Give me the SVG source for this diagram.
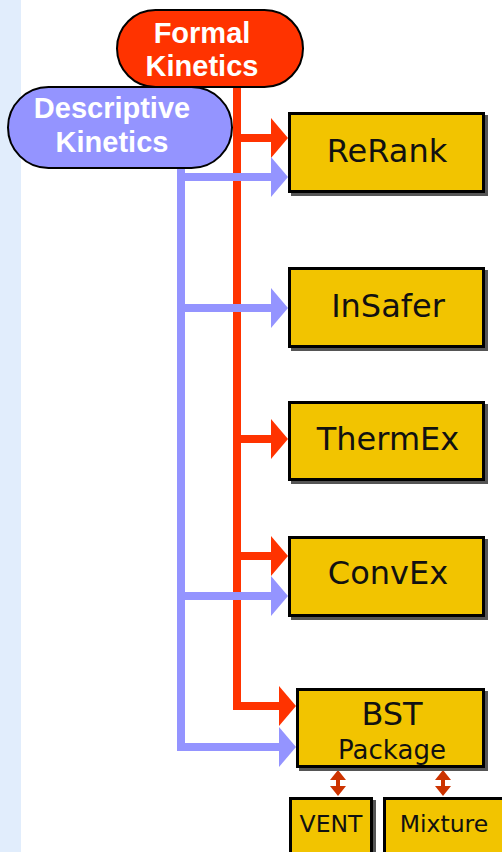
<svg xmlns="http://www.w3.org/2000/svg" width="502" height="852" viewBox="0 0 502 852">
  <style>
    .pill-label { font-family: "Liberation Sans", Arial, sans-serif; font-weight: bold; font-size: 29px; fill: #ffffff; text-anchor: middle; }
    .box { fill: #F2C400; stroke: #000000; stroke-width: 3; }
    .shadow { fill: #555555; }
    .box-label { font-family: "DejaVu Sans", Verdana, sans-serif; font-size: 32px; fill: #111111; text-anchor: middle; }
    .small-label { font-family: "DejaVu Sans", Verdana, sans-serif; font-size: 23.5px; fill: #111111; text-anchor: middle; }
    .red { fill: none; stroke: #FF3300; stroke-width: 8; }
    .blue { fill: none; stroke: #9494FF; stroke-width: 8; }
  </style>
  <defs>
    <marker id="headRed" viewBox="0 0 17 40" refX="0" refY="20" markerWidth="17" markerHeight="40" markerUnits="userSpaceOnUse" orient="auto">
      <path d="M0 0 L17 20 L0 40 Z" fill="#FF3300"/>
    </marker>
    <marker id="headBlue" viewBox="0 0 17 40" refX="0" refY="20" markerWidth="17" markerHeight="40" markerUnits="userSpaceOnUse" orient="auto">
      <path d="M0 0 L17 20 L0 40 Z" fill="#9494FF"/>
    </marker>
    <!-- two-headed link between BST Package and its sub-modules -->
    <path id="dbl" d="M0 -13 L8 -3 L2 -3 L2 3 L8 3 L0 13 L-8 3 L-2 3 L-2 -3 L-8 -3 Z" fill="#CC3300"/>
  </defs>

  <!-- side band -->
  <rect x="0" y="0" width="21" height="852" fill="#E1EDFC"/>

  <g id="connectors">
    <path class="red" d="M237 87 V706 H279" marker-end="url(#headRed)"/>
    <path class="red" d="M237 138 H271" marker-end="url(#headRed)"/>
    <path class="red" d="M237 439 H271" marker-end="url(#headRed)"/>
    <path class="red" d="M237 556 H271" marker-end="url(#headRed)"/>
    <path class="blue" d="M181 168 V747 H279" marker-end="url(#headBlue)"/>
    <path class="blue" d="M181 177 H271" marker-end="url(#headBlue)"/>
    <path class="blue" d="M181 308 H271" marker-end="url(#headBlue)"/>
    <path class="blue" d="M181 596 H271" marker-end="url(#headBlue)"/>
    <use href="#dbl" x="338" y="783"/>
    <use href="#dbl" x="443" y="783"/>
  </g>

  <g id="formal-kinetics">
    <rect x="117" y="10" width="186" height="77" rx="38.5" fill="#FF3300" stroke="#000" stroke-width="2"/>
    <text class="pill-label" x="202" y="43">Formal</text>
    <text class="pill-label" x="202" y="76">Kinetics</text>
  </g>

  <g id="descriptive-kinetics">
    <rect x="8" y="87" width="224" height="81" rx="40.5" fill="#9494FF" stroke="#000" stroke-width="2"/>
    <text class="pill-label" x="112" y="118">Descriptive</text>
    <text class="pill-label" x="112" y="152">Kinetics</text>
  </g>

  <g id="rerank">
    <rect class="shadow" x="291" y="115" width="197" height="81"/>
    <rect class="box" x="289.5" y="113.5" width="194" height="78"/>
    <text class="box-label" x="387" y="162">ReRank</text>
  </g>

  <g id="insafer">
    <rect class="shadow" x="291" y="270" width="197" height="81"/>
    <rect class="box" x="289.5" y="268.5" width="194" height="78"/>
    <text class="box-label" x="388" y="317">InSafer</text>
  </g>

  <g id="thermex">
    <rect class="shadow" x="291" y="404" width="197" height="80"/>
    <rect class="box" x="289.5" y="402.5" width="194" height="77"/>
    <text class="box-label" x="388" y="450">ThermEx</text>
  </g>

  <g id="convex">
    <rect class="shadow" x="291" y="539" width="197" height="81"/>
    <rect class="box" x="289.5" y="537.5" width="194" height="78"/>
    <text class="box-label" x="388" y="584">ConvEx</text>
  </g>

  <g id="bst-package">
    <rect class="shadow" x="299" y="691" width="189" height="80"/>
    <rect class="box" x="297.5" y="689.5" width="186" height="77"/>
    <text class="box-label" x="392" y="725">BST</text>
    <text class="box-label" x="392" y="759" style="font-size:26px">Package</text>
  </g>

  <g id="vent">
    <rect class="shadow" x="292" y="800" width="84" height="60"/>
    <rect class="box" x="290.5" y="798.5" width="81" height="60"/>
    <text class="small-label" x="331" y="832">VENT</text>
  </g>

  <g id="mixture">
    <rect class="shadow" x="386" y="800" width="125" height="60"/>
    <rect class="box" x="384.5" y="798.5" width="125" height="60"/>
    <text class="small-label" x="444" y="832">Mixture</text>
  </g>
</svg>
